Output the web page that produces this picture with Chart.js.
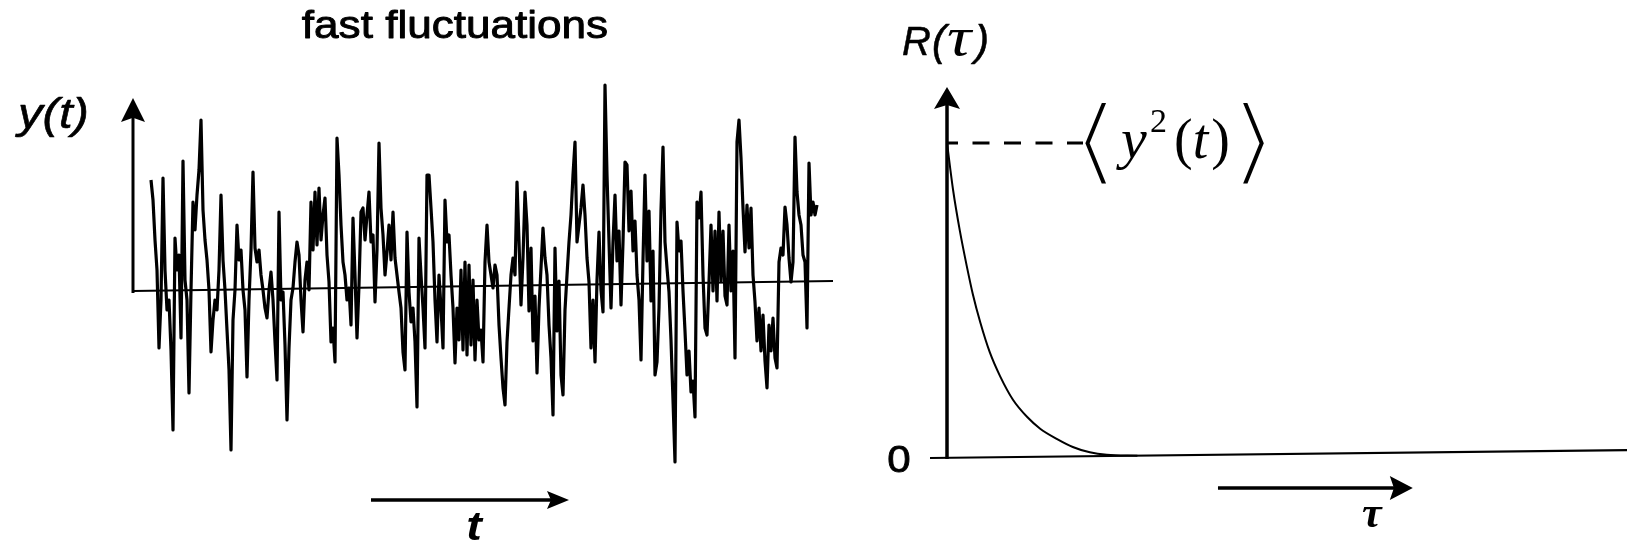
<!DOCTYPE html>
<html>
<head>
<meta charset="utf-8">
<title>fast fluctuations</title>
<script src="https://cdn.jsdelivr.net/npm/chart.js@4.4.1/dist/chart.umd.min.js"></script>
<style>
  body { margin: 0; background: #fff; width: 1627px; height: 543px; overflow: hidden; position: relative; }
  canvas { position: absolute; top: 0; }
  #fluctChart { left: 0; }
  #corrChart { left: 860px; }
</style>
</head>
<body>
<canvas id="fluctChart" width="860" height="543"></canvas>
<canvas id="corrChart" width="767" height="543"></canvas>
<script>
// y(t): sampled signal, one value every T_STEP time units starting at T_START
const T_START = 18;
const T_STEP = 2;
const yFluct = [
  111, 91, 51, 21, -57, -9, 113, 21, -19, -9, -59, -139, 53, 21, 36, -47, 130, 11, -9, -102, 1, 89, 61, 96, 121, 171, 81, 51, 31, 1,
  -61, -29, -9, -19, 21, 96, 31, 1, -39, -79, -159, -29, 1, 66, 31, 41, 1, -19, -86, -9, 41, 119,
  43, 29, 41, 16, 1, -17, -27, 1, 19, -9, -51, -89, 79, -9, -1, -54, -129, -57, -9, 3, 29, 49, 36, -9, -41, 11, 29, 1, 89, 41,
  99, 46, 103, 51, 76, 93, 36, 9, -51, -37, -71, 153, 116, 66, 29, 16, -9, 3, -34, 73, 16, -47, 6, 79, 83, 51, 76,
  99, 49, 56, -11, 41, 148, 83, 56, 16, 39, 66, 31, 79, 33, 16, -1, -17, -61, -79, 59, -1, -31, -17, -51, -116, 53, 16, -17, -57, 116,
  116, 83, 49, -9, -51, 16, -17, -57, 91, 49, 56, 16, -17, -72, -17, -49, 21, -59, 29, -64, 26, -54, 11, -69, -9, -49,
  -39, -71, 29, 66, 29, 16, 3, 26, 16, -34, -67, -97, -114, -51, -17, 16, 33, 16, 109, 49, -14, 33, 99, 66, -20, 43, -50, -5, -82, -17,
  23, 63, 33, 16, -34, -67, -124, 43, -40, 10, -84, -104, -19, 16, 49, 76, 116, 149, 49, 66, 83, 106, 76, 33, 9, -57,
  -9, -71, 11, 59, 1, -21, 206, 116, 49, -17, 49, 96, 30, 60, -14, 49, 129, 126, 60, 100, 40, 70, 16, -9, -69, 31, 116, 30, 80, -10,
  40, -84, -71, -17, 81, 144, 49, 23, -1, -49, -109, -171, 69, 40, 50, 0, -40, -84, -60, -101, -90, -126, 89, 73, 99, 16, -37,
  -44, 9, 66, 0, 60, -10, 79, 10, 60, -5, -14, 66, 0, 40, -67, 149, 171, 133, 83, 39, 86, 43, 83, 16, -11, -50, -17, -60, -24, -70,
  -97, -34, -60, -27, -67, -77, 29, 43, 36, 84, 66, 33, 9, 29, 154, 99, 76, 66, 36, 29, -37, 128, 76, 89, 76, 86
];
// time axis line (it drifts a little from left to right)
const tBase = [0, 700];
const yBase = [0, 10];
const Y_AXIS_TOP = 193;
const tArrow = [238, 436];

// R(tau): autocorrelation decay
const tau = [0, 0.09, 0.19, 0.29, 0.38, 0.49, 0.63, 0.78, 0.97, 1.18, 1.37, 1.62, 1.85, 2.1, 2.35, 2.8];
const rTau = [1.0, 0.85, 0.72, 0.61, 0.52, 0.43, 0.335, 0.26, 0.185, 0.13, 0.093, 0.06, 0.035, 0.018, 0.01, 0.007];
const tauBase = [-0.25, 10];
const rBase = [0, 0.025];
const R_AXIS_TOP = 1.178;
const MEAN_SQ = 1.0;
const MEAN_SQ_END = 2.0;
const tauArrow = [3.985, 6.85];

const INK = '#000';
const SANS = '"Liberation Sans", Arial, sans-serif';
const SERIF = '"Liberation Serif", "Times New Roman", serif';

function arrowUp(ctx, x, y, len, half) {
  ctx.beginPath();
  ctx.moveTo(x, y);
  ctx.lineTo(x + half, y + len);
  ctx.lineTo(x, y + len * 0.82);
  ctx.lineTo(x - half, y + len);
  ctx.closePath();
  ctx.fill();
}

function arrowRight(ctx, x, y, len, half) {
  ctx.beginPath();
  ctx.moveTo(x, y);
  ctx.lineTo(x - len, y - half);
  ctx.lineTo(x - len * 0.82, y);
  ctx.lineTo(x - len, y + half);
  ctx.closePath();
  ctx.fill();
}

function hLine(ctx, x1, x2, y, w) {
  ctx.beginPath();
  ctx.lineWidth = w;
  ctx.moveTo(x1, y);
  ctx.lineTo(x2, y);
  ctx.stroke();
}

// text drawn with a slight horizontal stretch, like the lettering of the figure;
// `heavy` adds a thin outline so the strokes look as dark as the print
function label(ctx, text, x, y, font, sx, align, heavy) {
  ctx.save();
  ctx.font = font;
  ctx.textAlign = align || 'left';
  ctx.textBaseline = 'alphabetic';
  ctx.translate(x, y);
  ctx.scale(sx, 1);
  ctx.fillText(text, 0, 0);
  if (heavy) {
    ctx.lineWidth = heavy;
    ctx.lineJoin = 'round';
    ctx.strokeText(text, 0, 0);
  }
  ctx.restore();
  ctx.font = font;
  return ctx.measureText(text).width * sx;
}

// angle bracket glyph scaled into the box left..left+width, top..bottom,
// then thinned (outline erased) so it reads as a light math bracket
function bracket(ctx, ch, left, width, top, bottom, thin) {
  ctx.save();
  ctx.font = '100px "DejaVu Sans"';
  const m = ctx.measureText(ch);
  const h = m.actualBoundingBoxAscent + m.actualBoundingBoxDescent;
  const w = m.actualBoundingBoxLeft + m.actualBoundingBoxRight;
  const k = (bottom - top) / h;
  const sx = width / (w * k);
  ctx.textAlign = 'left';
  ctx.textBaseline = 'alphabetic';
  ctx.translate(left, top);
  ctx.scale(k * sx, k);
  ctx.fillText(ch, m.actualBoundingBoxLeft, m.actualBoundingBoxAscent);
  ctx.globalCompositeOperation = 'destination-out';
  ctx.lineWidth = thin / k;
  ctx.lineJoin = 'miter';
  ctx.strokeText(ch, m.actualBoundingBoxLeft, m.actualBoundingBoxAscent);
  ctx.restore();
}

const fluctDecor = {
  id: 'fluctDecor',
  afterDatasetsDraw(chart) {
    const { ctx, scales: { x, y } } = chart;
    ctx.save();
    ctx.strokeStyle = INK;
    ctx.fillStyle = INK;

    // vertical axis with arrow
    const x0 = x.getPixelForValue(0);
    const yTop = y.getPixelForValue(Y_AXIS_TOP);
    ctx.beginPath();
    ctx.lineWidth = 3;
    ctx.moveTo(x0, y.getPixelForValue(0) + 2);
    ctx.lineTo(x0, yTop + 16);
    ctx.stroke();
    arrowUp(ctx, x0, yTop, 24, 12);

    // time direction arrow
    const ay = 500;
    hLine(ctx, x.getPixelForValue(tArrow[0]), x.getPixelForValue(tArrow[1]) - 14, ay, 3.5);
    arrowRight(ctx, x.getPixelForValue(tArrow[1]), ay, 22, 9);

    label(ctx, 'fast fluctuations', 455, 38, '38px ' + SANS, 1.16, 'center', 0.9);
    label(ctx, 'y(t)', 18, 128, 'italic 42px ' + SANS, 1.17, 'left', 0.6);
    label(ctx, 't', 474, 540, 'italic bold 40px ' + SANS, 1.17, 'center');
    ctx.restore();
  }
};

const corrDecor = {
  id: 'corrDecor',
  afterDatasetsDraw(chart) {
    const { ctx, scales: { x, y } } = chart;
    const ox = -860;
    ctx.save();
    ctx.strokeStyle = INK;
    ctx.fillStyle = INK;

    // <y^2(t)> label, brackets first since they are thinned by erasing
    bracket(ctx, '\u27E8', 1081 + ox, 29, 100, 186, 4.5);
    bracket(ctx, '\u27E9', 1239 + ox, 29, 100, 186, 4.5);
    label(ctx, 'y', 1121 + ox, 158, 'italic 58px ' + SERIF, 1);
    label(ctx, '2', 1150 + ox, 132, '34px ' + SERIF, 1);
    let cx = 1174 + ox;
    cx += label(ctx, '(', cx, 158, '56px ' + SERIF, 1);
    cx += label(ctx, 't', cx, 158, 'italic 56px ' + SERIF, 1);
    cx += 3;
    label(ctx, ')', cx, 158, '56px ' + SERIF, 1);

    const x0 = x.getPixelForValue(0);
    const y0 = y.getPixelForValue(0);
    const yTop = y.getPixelForValue(R_AXIS_TOP);
    ctx.beginPath();
    ctx.lineWidth = 3.5;
    ctx.moveTo(x0, y0 + 1);
    ctx.lineTo(x0, yTop + 16);
    ctx.stroke();
    arrowUp(ctx, x0, yTop, 22, 13);

    // <y^2(t)> level
    const ym = y.getPixelForValue(MEAN_SQ);
    ctx.save();
    ctx.setLineDash([17, 14.5]);
    ctx.lineDashOffset = 6;
    hLine(ctx, x0, x.getPixelForValue(MEAN_SQ_END), ym, 3);
    ctx.restore();

    // tau direction arrow
    const ay = 488;
    hLine(ctx, x.getPixelForValue(tauArrow[0]), x.getPixelForValue(tauArrow[1]) - 14, ay, 3.5);
    arrowRight(ctx, x.getPixelForValue(tauArrow[1]), ay, 23, 12);

    // R(tau)
    label(ctx, 'R', 902 + ox, 55, 'italic 40px ' + SANS, 1.0, 'left', 0.5);
    label(ctx, '(', 932 + ox, 55, 'italic 42px ' + SANS, 1.0, 'left', 0.5);
    label(ctx, '\u03C4', 947 + ox, 55, 'italic 54px ' + SERIF, 1.25);
    label(ctx, ')', 975 + ox, 55, 'italic 42px ' + SANS, 1.0, 'left', 0.5);

    label(ctx, '0', 899 + ox, 472, '36px ' + SANS, 1.17, 'center', 0.8);
    label(ctx, '\u03C4', 1362 + ox, 527, 'italic bold 44px ' + SERIF, 1);
    ctx.restore();
  }
};

const commonOpts = {
  responsive: false,
  animation: false,
  events: [],
  plugins: { legend: { display: false }, tooltip: { enabled: false } },
  elements: { point: { radius: 0 } }
};

new Chart(document.getElementById('fluctChart'), {
  type: 'line',
  data: {
    datasets: [
      {
        data: yFluct.map((v, i) => ({ x: T_START + i * T_STEP, y: v })),
        borderColor: INK,
        borderWidth: 3.2,
        tension: 0,
        borderJoinStyle: 'round'
      },
      {
        data: tBase.map((t, i) => ({ x: t, y: yBase[i] })),
        borderColor: INK,
        borderWidth: 2.2
      }
    ]
  },
  options: {
    ...commonOpts,
    layout: { padding: { left: 133, right: 27, top: 80, bottom: 60 } },
    scales: {
      x: { type: 'linear', min: 0, max: 700, display: false },
      y: { type: 'linear', min: -192, max: 211, display: false }
    }
  },
  plugins: [fluctDecor]
});

new Chart(document.getElementById('corrChart'), {
  type: 'line',
  data: {
    datasets: [
      {
        data: tau.map((t, i) => ({ x: t, y: rTau[i] })),
        borderColor: INK,
        borderWidth: 2,
        cubicInterpolationMode: 'monotone'
      },
      {
        data: tauBase.map((t, i) => ({ x: t, y: rBase[i] })),
        borderColor: INK,
        borderWidth: 2.2
      }
    ]
  },
  options: {
    ...commonOpts,
    layout: { padding: { left: 70, right: 0, top: 80, bottom: 60 } },
    scales: {
      x: { type: 'linear', min: -0.25, max: 10, display: false },
      y: { type: 'linear', min: -0.0794, max: 1.2, display: false }
    }
  },
  plugins: [corrDecor]
});
</script>
</body>
</html>
